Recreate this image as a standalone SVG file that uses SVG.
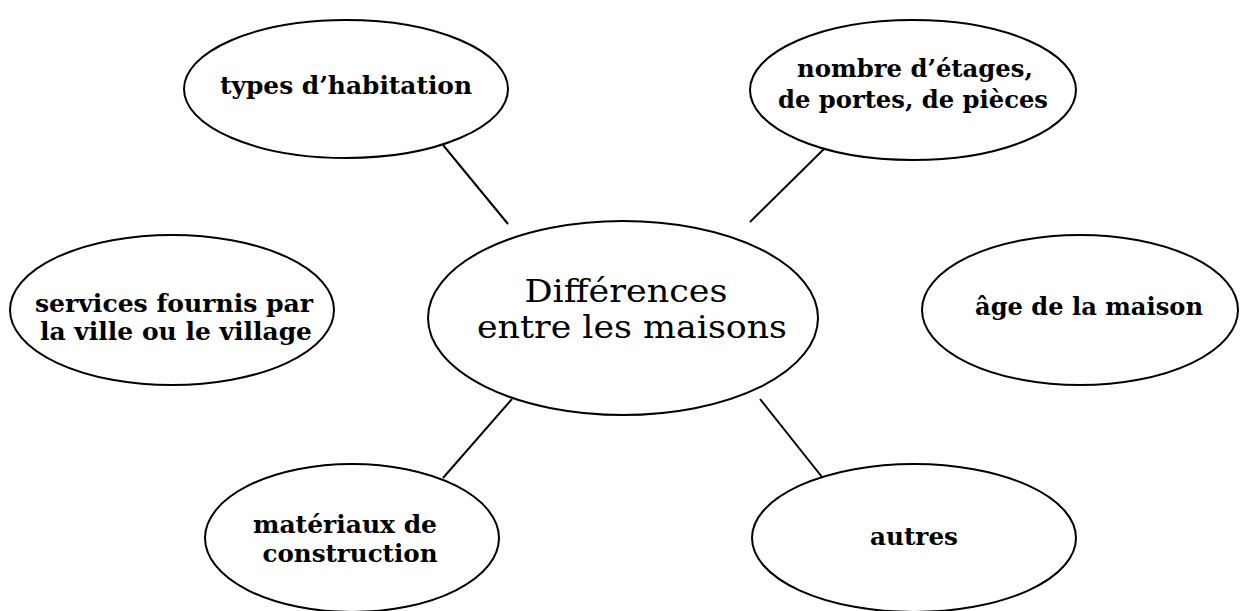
<svg xmlns="http://www.w3.org/2000/svg" width="1240" height="611" viewBox="0 0 1240 611">
<style>
.n{fill:#fff;stroke:#000;stroke-width:2}
.c{stroke:#000;stroke-width:2;fill:none}
text{font-family:"DejaVu Serif","Liberation Serif",serif;fill:#000;text-anchor:middle}
.s{font-size:24px;font-weight:bold}
.b{font-size:31px}
</style>
<rect width="1240" height="611" fill="#fff"/>
<g id="connectors">
<line class="c" x1="443" y1="145" x2="508" y2="224"/>
<line class="c" x1="826" y1="147" x2="750" y2="222"/>
<line class="c" x1="512" y1="399" x2="443" y2="478"/>
<line class="c" x1="760" y1="399" x2="822" y2="477"/>
</g>
<g id="center">
<ellipse class="n" cx="623" cy="318" rx="195" ry="97"/>
<text class="b" x="626" y="302" textLength="203" lengthAdjust="spacingAndGlyphs">Différences</text>
<text class="b" x="632" y="338" textLength="310" lengthAdjust="spacingAndGlyphs">entre les maisons</text>
</g>
<g id="types">
<ellipse class="n" cx="346" cy="89" rx="162" ry="69"/>
<text class="s" x="346" y="94" textLength="252" lengthAdjust="spacingAndGlyphs">types d’habitation</text>
</g>
<g id="nombre">
<ellipse class="n" cx="913" cy="90" rx="163" ry="70"/>
<text class="s" x="915" y="77" textLength="236" lengthAdjust="spacingAndGlyphs">nombre d’étages,</text>
<text class="s" x="913" y="108" textLength="270" lengthAdjust="spacingAndGlyphs">de portes, de pièces</text>
</g>
<g id="services">
<ellipse class="n" cx="172" cy="310" rx="162" ry="75"/>
<text class="s" x="174" y="312" textLength="278" lengthAdjust="spacingAndGlyphs">services fournis par</text>
<text class="s" x="176" y="340" textLength="272" lengthAdjust="spacingAndGlyphs">la ville ou le village</text>
</g>
<g id="age">
<ellipse class="n" cx="1080" cy="310" rx="158" ry="75"/>
<text class="s" x="1089" y="315" textLength="228" lengthAdjust="spacingAndGlyphs">âge de la maison</text>
</g>
<g id="materiaux">
<ellipse class="n" cx="352" cy="538" rx="147" ry="74"/>
<text class="s" x="345" y="533" textLength="184" lengthAdjust="spacingAndGlyphs">matériaux de</text>
<text class="s" x="350" y="562" textLength="175" lengthAdjust="spacingAndGlyphs">construction</text>
</g>
<g id="autres">
<ellipse class="n" cx="914" cy="538" rx="162" ry="74"/>
<text class="s" x="914" y="545" textLength="88" lengthAdjust="spacingAndGlyphs">autres</text>
</g>
</svg>
